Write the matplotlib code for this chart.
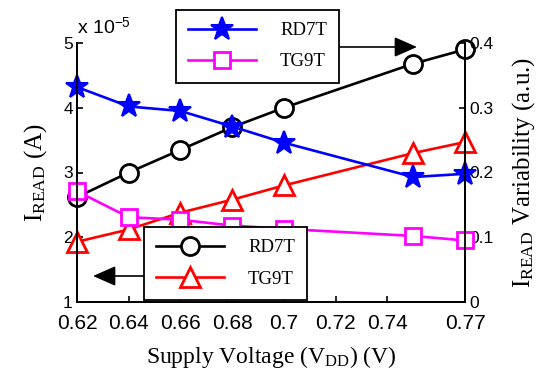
import matplotlib
matplotlib.use("Agg")
import matplotlib.pyplot as plt

plt.rcParams['mathtext.fontset'] = 'custom'
plt.rcParams['mathtext.rm'] = 'Liberation Serif'
plt.rcParams['mathtext.it'] = 'Liberation Serif:italic'
plt.rcParams['mathtext.sf'] = 'Liberation Sans'

# ---- data ----
vdd = [0.62, 0.64, 0.66, 0.68, 0.70, 0.75, 0.77]
iread_rd7t = [2.62, 3.00, 3.35, 3.70, 4.00, 4.68, 4.90]      # x 1e-5 A (left axis)
iread_tg9t = [1.93, 2.12, 2.38, 2.58, 2.80, 3.30, 3.47]      # x 1e-5 A (left axis)
var_rd7t = [0.332, 0.302, 0.295, 0.271, 0.246, 0.193, 0.198]  # right axis
var_tg9t = [0.171, 0.131, 0.127, 0.118, 0.113, 0.102, 0.095]  # right axis
xticks = [0.62, 0.64, 0.66, 0.68, 0.70, 0.72, 0.74, 0.77]
xticklabels = ['0.62', '0.64', '0.66', '0.68', '0.7', '0.72', '0.74', '0.77']
yticks_left = [1, 2, 3, 4, 5]
yticks_right = [0, 0.1, 0.2, 0.3, 0.4]
yticklabels_right = ['0', '0.1', '0.2', '0.3', '0.4']

W, H = 546, 375
fig = plt.figure(figsize=(5.46, 3.75), dpi=100)
ax1 = fig.add_axes([77 / W, 1 - 302 / H, (465 - 77) / W, (302 - 43) / H])
ax2 = ax1.twinx()

xtickfont = dict(family='Liberation Sans', size=15)
ytickfont = dict(family='Liberation Sans', size=12.5)
serif = 'Liberation Serif'
lw = 1.9

l_rd7t, = ax1.plot(vdd, iread_rd7t, color='black', lw=lw, marker='o', ms=13,
                   mfc='white', mec='black', mew=2, clip_on=False)
l_tg9t, = ax1.plot(vdd, iread_tg9t, color='red', lw=lw, marker='^', ms=14,
                   mfc='white', mec='red', mew=2, clip_on=False)
v_rd7t, = ax2.plot(vdd, var_rd7t, color='blue', lw=lw, marker='*', ms=17,
                   mfc='blue', mec='blue', mew=1.5, clip_on=False)
v_tg9t, = ax2.plot(vdd, var_tg9t, color='magenta', lw=lw, marker='s', ms=11,
                   mfc='white', mec='magenta', mew=2, clip_on=False)

ax1.set_xlim(0.62, 0.77)
ax1.set_ylim(1, 5)
ax2.set_ylim(0, 0.4)

ax1.set_xticks(xticks)
ax1.set_xticklabels(xticklabels, **xtickfont)
ax1.set_yticks(yticks_left)
ax1.set_yticklabels([str(v) for v in yticks_left], **ytickfont)
ax2.set_yticks(yticks_right)
ax2.set_yticklabels(yticklabels_right, **ytickfont)

for ax in (ax1, ax2):
    ax.spines['top'].set_visible(False)
    for s in ax.spines.values():
        s.set_linewidth(1.3)
    ax.tick_params(direction='in', length=4, width=1.2, pad=3)
ax1.tick_params(axis='x', pad=8.5)

ax1.set_xlabel('Supply Voltage (V$_{\\mathrm{DD}}$) (V)', family=serif, fontsize=17, labelpad=8)
ax1.set_ylabel('I$_{\\mathrm{READ}}$ (A)', family=serif, fontsize=18, labelpad=10)
ax2.set_ylabel('I$_{\\mathrm{READ}}$ Variability (a.u.)', family=serif, fontsize=18,
               labelpad=12)

fig.text(77 / W, 1 - 34 / H, 'x 10$^{\\mathsf{-5}}$', family='Liberation Sans', fontsize=14,
         va='baseline', ha='left')

legkw = dict(loc='upper left', bbox_transform=fig.transFigure, borderaxespad=0,
             fancybox=False, edgecolor='black', framealpha=1, facecolor='white',
             handlelength=3.6, handletextpad=1.3, borderpad=0.65, labelspacing=0.75,
             prop={'family': serif, 'size': 13.5})
leg1 = ax2.legend([v_rd7t, v_tg9t], ['RD7T', 'TG9T'],
                  bbox_to_anchor=(176 / W, 1 - 10 / H), **legkw)
leg1.get_frame().set_linewidth(1.3)
ax2.add_artist(leg1)
leg2 = ax2.legend([l_rd7t, l_tg9t], ['RD7T', 'TG9T'],
                  bbox_to_anchor=(144 / W, 1 - 227 / H), **legkw)
leg2.get_frame().set_linewidth(1.3)

arrowprops = dict(arrowstyle='-|>,head_length=0.5,head_width=0.22', lw=1.2,
                  color='black', mutation_scale=28, shrinkA=0, shrinkB=0)
ax2.annotate('', xy=(417 / W, 1 - 47 / H), xycoords='figure fraction',
             xytext=(339 / W, 1 - 47 / H), textcoords='figure fraction',
             arrowprops=arrowprops, annotation_clip=False)
ax2.annotate('', xy=(93 / W, 1 - 276 / H), xycoords='figure fraction',
             xytext=(144 / W, 1 - 276 / H), textcoords='figure fraction',
             arrowprops=arrowprops, annotation_clip=False)

fig.savefig('out.png', dpi=100)
